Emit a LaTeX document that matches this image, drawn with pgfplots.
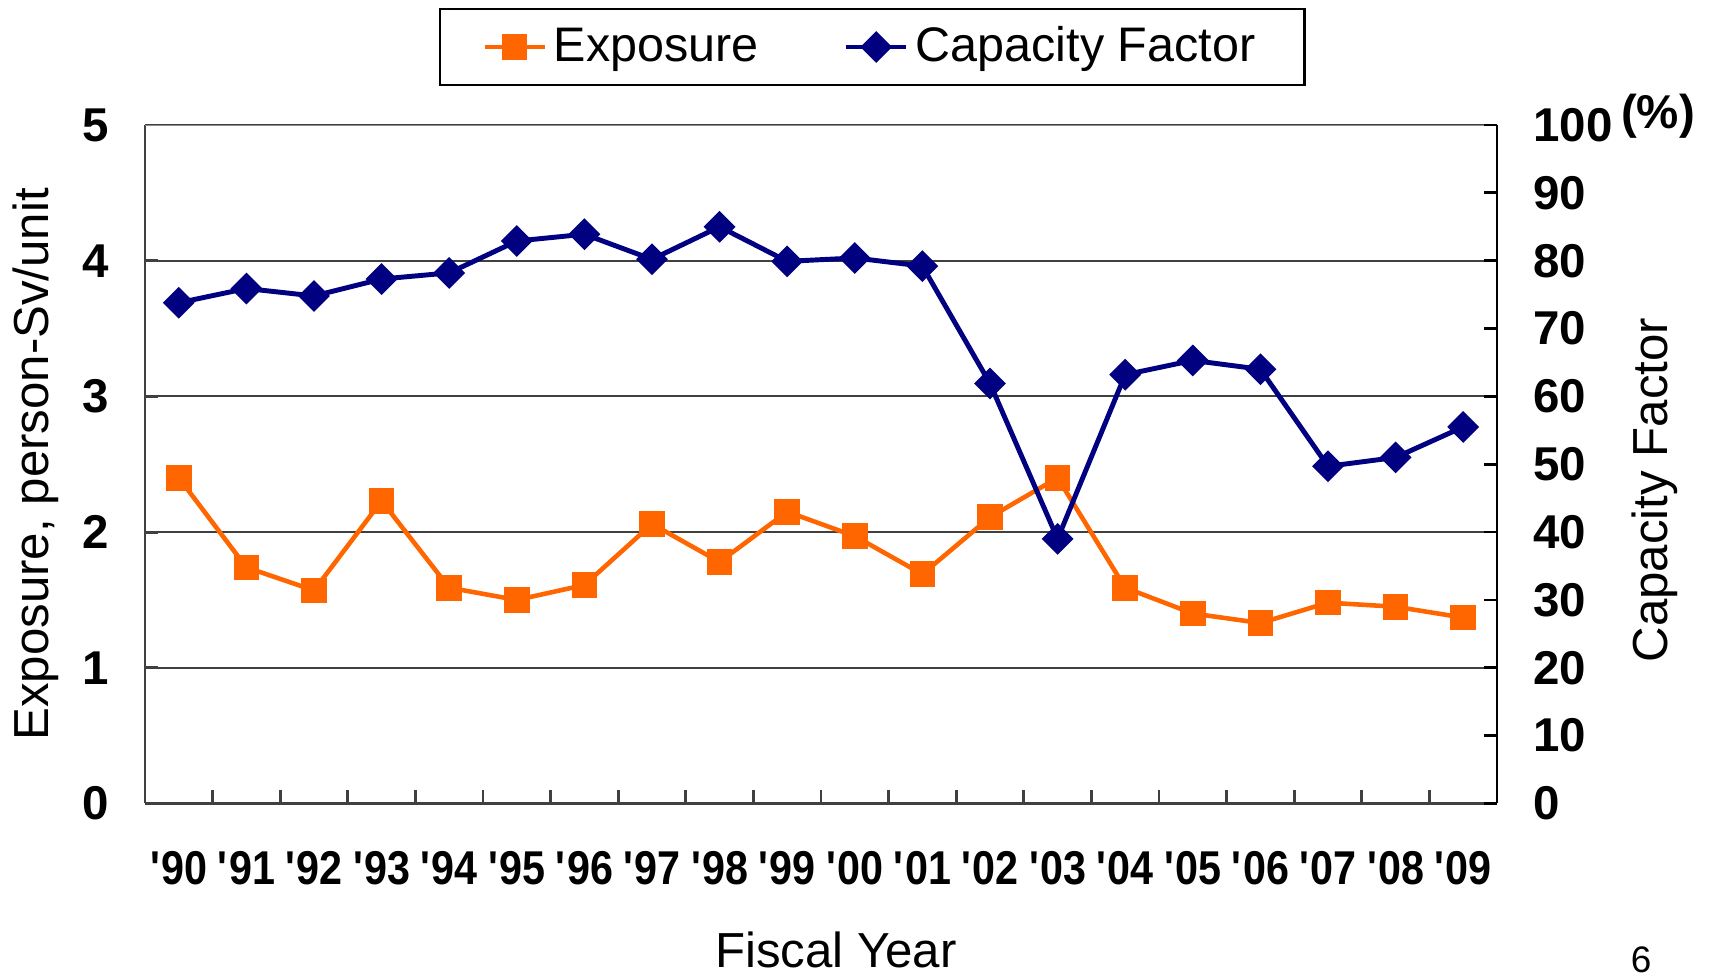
\documentclass[border=0pt]{standalone}
\usepackage{pgfplots}
\usepackage{pgfplotstable}
\pgfplotsset{compat=1.18}
\usepackage{fontspec}
\setmainfont{Liberation Sans}
\newfontfamily\narrowfont[FakeStretch=0.87]{Liberation Sans}
\definecolor{expo}{HTML}{FF6600}
\definecolor{capa}{HTML}{000080}
\definecolor{gridc}{HTML}{404040}

% fiscal years '90--'09 at x = 0..19
\pgfplotstableread{
x  expo  cf
0  2.40  73.8
1  1.74  75.9
2  1.57  74.8
3  2.23  77.3
4  1.59  78.2
5  1.50  82.9
6  1.61  83.9
7  2.06  80.2
8  1.78  85.0
9  2.15  79.9
10 1.97  80.4
11 1.69  79.2
12 2.11  61.9
13 2.40  39.0
14 1.59  63.2
15 1.40  65.3
16 1.33  64.0
17 1.48  49.7
18 1.45  51.0
19 1.37  55.5
}\datatab

\newcommand{\q}{\textquotesingle}

\begin{document}
\begin{tikzpicture}
\useasboundingbox (-1.45,-1.725) rectangle (15.67,8.035);
\pgfplotsset{
  base/.style={
    width=13.52cm, height=6.785cm, scale only axis,
    at={(0,0)}, anchor=south west,
    xmin=-0.5, xmax=19.5,
    tick align=inside, major tick length=0.13cm,
    /pgf/number format/assume math mode=true,
    tick label style={font=\fontsize{13.5}{16}\selectfont\bfseries},
    axis line style={-, draw=black!75, line width=0.8pt},
  },
}
\begin{axis}[base,
  axis x line*=bottom, axis y line*=left,
  ymin=0, ymax=5, ytick={0,1,2,3,4,5},
  ymajorgrids, grid style={gridc, line width=0.6pt},
  xtick={-0.5,0.5,...,19.5},
  xticklabels={},
  extra x ticks={0,...,19},
  extra x tick labels={\q 90,\q 91,\q 92,\q 93,\q 94,\q 95,\q 96,\q 97,\q 98,\q 99,
               \q 00,\q 01,\q 02,\q 03,\q 04,\q 05,\q 06,\q 07,\q 08,\q 09},
  extra x tick style={major tick length=0pt, grid=none,
    xticklabel style={yshift=-0.35cm, font=\fontsize{13.5}{16}\selectfont\narrowfont\bfseries}},
  yticklabel style={xshift=-0.24cm},
  ytick style={black!75, line width=0.8pt},
  xtick style={black!75, line width=0.8pt},
  xlabel={Fiscal Year},
  ylabel={Exposure, person-Sv/unit},
  every axis x label/.style={at={(axis description cs:0.511,-0.216)}, anchor=center,
    font=\fontsize{14}{16}\selectfont},
  every axis y label/.style={at={(axis description cs:-0.0805,0.5)}, rotate=90, anchor=center,
    font=\fontsize{14}{16}\selectfont},
  legend columns=2,
  legend style={at={(axis description cs:0.538,1.115)}, anchor=center,
    draw=black, line width=0.6pt, font=\fontsize{13.8}{16}\selectfont,
    inner xsep=0.42cm, inner ysep=0.11cm,
    /tikz/every even column/.append style={column sep=0.78cm}},
]
\draw[black!45, line width=0.8pt] (rel axis cs:0,1) -- (rel axis cs:1,1);
\addplot[expo, line width=1.3pt, mark=square*, mark size=3pt,
  mark options={solid, fill=expo}] table[x=x, y=expo] {\datatab};
\addlegendentry{Exposure}
\addlegendimage{capa, line width=1.4pt, mark=square*, mark size=2.5pt,
  mark options={solid, fill=capa, rotate=45}}
\addlegendentry{Capacity Factor}
\end{axis}

\begin{axis}[base,
  axis y line*=right, axis x line=none,
  ymin=0, ymax=100, ytick={0,10,...,100},
  axis line style={-, draw=black, line width=0.8pt},
  ytick style={black, line width=0.8pt},
  yticklabel style={xshift=0.24cm},
  ylabel={Capacity Factor},
  every axis y label/.style={at={(axis description cs:1.1169,0.462)}, rotate=90, anchor=center,
    font=\fontsize{14}{16}\selectfont},
]
\addplot[capa, line width=1.4pt, mark=square*, mark size=2.5pt,
  mark options={solid, fill=capa, rotate=45}] table[x=x, y=cf] {\datatab};
\end{axis}

\node[font=\fontsize{10.5}{12}\selectfont] at (14.96,-1.56) {6};
\node[font=\fontsize{13.5}{16}\selectfont\bfseries] at (15.13,6.875) {(\%)};
\end{tikzpicture}
\end{document}
